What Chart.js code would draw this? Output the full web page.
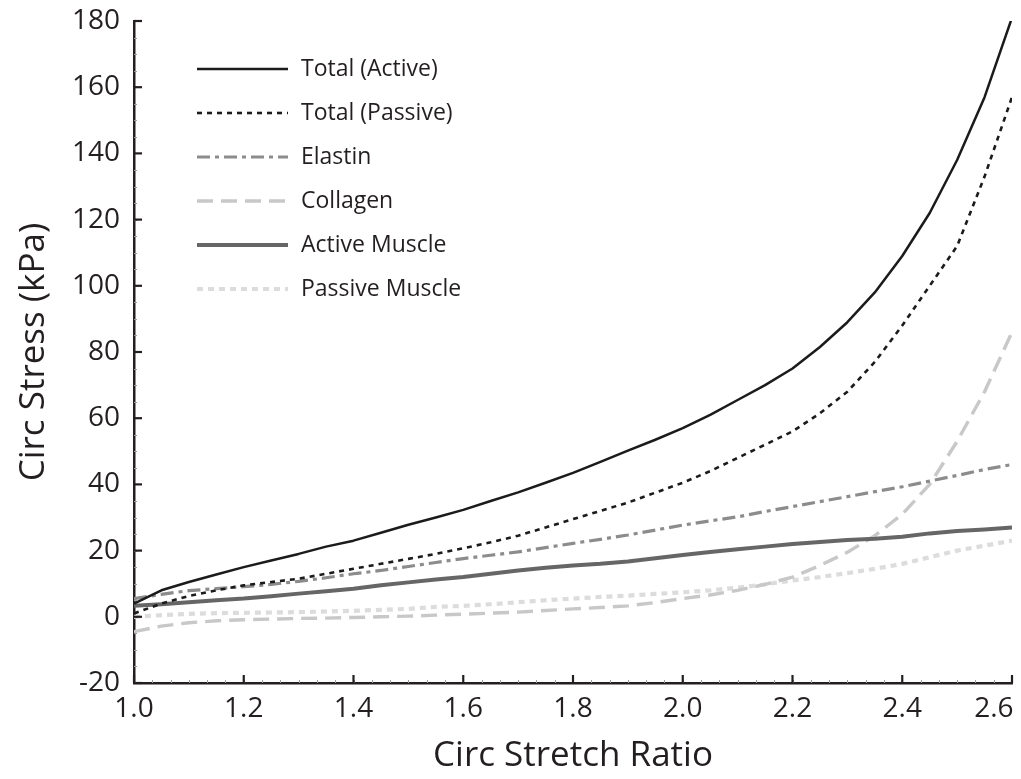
<!DOCTYPE html>
<html>
<head>
<meta charset="utf-8">
<script src="https://cdn.jsdelivr.net/npm/chart.js@4/dist/chart.umd.min.js"></script>
<style>
  html, body { margin: 0; padding: 0; background: #ffffff; }
  #wrap { width: 1021px; height: 779px; position: relative; }
</style>
</head>
<body>
<div id="wrap"><canvas id="c" width="1021" height="779"></canvas></div>
<script>
// ---- data ----
const stretch = [1.00,1.05,1.10,1.15,1.20,1.25,1.30,1.35,1.40,1.45,1.50,1.55,1.60,1.65,1.70,1.75,1.80,1.85,1.90,1.95,2.00,2.05,2.10,2.15,2.20,2.25,2.30,2.35,2.40,2.45,2.50,2.55,2.60];
const totalActive   = [4,8,10.5,12.8,15,17,19,21.2,23,25.4,27.8,30,32.3,35,37.6,40.5,43.5,46.8,50.2,53.5,57,61,65.5,70,75,81.5,89,98,109,122,138,157,181];
const totalPassive  = [1,4,6.3,8,9.5,10.5,11.5,13,14.5,16,17.5,19,20.7,22.5,24.5,27,29.5,32,34.5,37.5,40.5,44,48,52,56,61.5,68,77,88,100,112,133,157];
const elastin       = [5.5,6.8,7.9,8.5,9.1,9.8,10.7,11.8,13,14,15.2,16.4,17.6,18.6,19.6,20.9,22.2,23.4,24.7,26.2,27.7,29,30.2,31.8,33.3,34.8,36.3,37.8,39.3,41,42.7,44.5,46];
const collagen      = [-4.5,-2.8,-1.8,-1.2,-0.9,-0.7,-0.5,-0.4,-0.2,0,0.2,0.5,0.8,1.1,1.4,1.9,2.4,2.8,3.3,4.3,5.5,6.6,8,9.8,12,15.5,19.5,24.5,31,40,53,68,86];
const activeMuscle  = [3.3,3.8,4.4,5,5.5,6.2,7,7.7,8.5,9.5,10.4,11.3,12,13,14,14.8,15.5,16,16.7,17.7,18.7,19.6,20.4,21.2,22,22.6,23.2,23.6,24.2,25.2,25.9,26.4,27];
const passiveMuscle = [0,0.5,0.9,1.1,1.2,1.3,1.4,1.6,1.8,2.1,2.4,3,3.3,3.8,4.4,5,5.5,6,6.4,6.9,7.4,8,8.8,9.8,11,12,13.2,14.5,16,18,20,21.5,23];
const seriesNames = ['Total (Active)','Total (Passive)','Elastin','Collagen','Active Muscle','Passive Muscle'];
const xTickStep = 0.2;
const yTickStep = 20;
const xTitle = 'Circ Stretch Ratio';
const yTitle = 'Circ Stress (kPa)';

const INK = '#231f20';
const FONT = "'Open Sans', 'DejaVu Sans', sans-serif";

function pts(arr) { return stretch.map((x, i) => ({ x: x, y: arr[i] })); }

const styles = [
  { borderColor: '#1c1a1a', borderWidth: 2.5, borderDash: [] },
  { borderColor: '#1c1a1a', borderWidth: 2.6, borderDash: [5, 5] },
  { borderColor: '#8c8c8c', borderWidth: 3.2, borderDash: [13, 5, 4, 5] },
  { borderColor: '#c8c8c8', borderWidth: 3.4, borderDash: [16, 8] },
  { borderColor: '#666666', borderWidth: 4, borderDash: [] },
  { borderColor: '#dcdcdc', borderWidth: 4.2, borderDash: [6, 5] }
];
const seriesData = [totalActive, totalPassive, elastin, collagen, activeMuscle, passiveMuscle];

// draw order: lightest first so darker curves sit on top
const drawOrder = [5, 3, 2, 4, 1, 0];

const datasets = seriesNames.map((name, i) => ({
  label: name,
  data: pts(seriesData[i]),
  borderColor: styles[i].borderColor,
  borderWidth: styles[i].borderWidth,
  borderDash: styles[i].borderDash,
  borderCapStyle: 'butt',
  borderJoinStyle: 'round',
  pointRadius: 0,
  tension: 0,
  fill: false,
  order: 10 - drawOrder.indexOf(i)
}));

// inward major/minor tick marks
const innerTicks = {
  id: 'innerTicks',
  afterDraw(chart) {
    const ctx = chart.ctx;
    const xs = chart.scales.x, ys = chart.scales.y;
    const ca = chart.chartArea;
    ctx.save();
    ctx.lineWidth = 1;
    ctx.strokeStyle = '#9a9a9a';
    for (let k = 0; k <= 48; k++) {
      const v = xs.min + k * (xs.max - xs.min) / 48;
      const px = Math.round(xs.getPixelForValue(v)) + 0.5;
      ctx.beginPath(); ctx.moveTo(px, ca.bottom); ctx.lineTo(px, ca.bottom - 3); ctx.stroke();
    }
    for (let v = ys.min; v <= ys.max + 1e-9; v += 5) {
      const py = Math.round(ys.getPixelForValue(v)) + 0.5;
      ctx.beginPath(); ctx.moveTo(ca.left, py); ctx.lineTo(ca.left + 3, py); ctx.stroke();
    }
    ctx.strokeStyle = INK;
    ctx.lineWidth = 2.2;
    xs.ticks.forEach(t => {
      const px = xs.getPixelForValue(t.value);
      ctx.beginPath(); ctx.moveTo(px, ca.bottom); ctx.lineTo(px, ca.bottom - 8); ctx.stroke();
    });
    ys.ticks.forEach(t => {
      const py = ys.getPixelForValue(t.value);
      ctx.beginPath(); ctx.moveTo(ca.left, py); ctx.lineTo(ca.left + 8, py); ctx.stroke();
    });
    ctx.restore();
  }
};

// legend drawn inside the plot area
const innerLegend = {
  id: 'innerLegend',
  afterDraw(chart) {
    const ctx = chart.ctx;
    const x0 = 197, x1 = 288, tx = 301, y0 = 69, dy = 44;
    ctx.save();
    chart.data.datasets.forEach((ds, i) => {
      const y = y0 + i * dy;
      ctx.strokeStyle = ds.borderColor;
      ctx.lineWidth = ds.borderWidth;
      ctx.setLineDash(ds.borderDash || []);
      ctx.lineCap = 'butt';
      ctx.beginPath(); ctx.moveTo(x0, y); ctx.lineTo(x1, y); ctx.stroke();
      ctx.setLineDash([]);
      ctx.fillStyle = INK;
      ctx.font = "23px " + FONT;
      ctx.textBaseline = 'middle';
      ctx.textAlign = 'left';
      ctx.fillText(ds.label, tx, y);
    });
    ctx.restore();
  }
};

new Chart(document.getElementById('c'), {
  type: 'line',
  data: { datasets: datasets },
  options: {
    responsive: false,
    animation: false,
    devicePixelRatio: 1,
    layout: { padding: { top: 21, right: 9, left: 0, bottom: 0 } },
    plugins: { legend: { display: false }, tooltip: { enabled: false } },
    scales: {
      x: {
        type: 'linear',
        min: 1.0, max: 2.6,
        afterFit(s) { s.height = 96; s.paddingLeft = 0; s.paddingRight = 0; },
        grid: { display: false, drawTicks: false },
        border: { display: true, color: INK, width: 2.5 },
        ticks: {
          stepSize: xTickStep,
          padding: 9,
          color: INK,
          font: { family: FONT, size: 28 },
          callback: (v, i, arr) => Number(v).toFixed(1) + (i === arr.length - 1 ? '     ' : ''),
          maxRotation: 0
        },
        title: {
          display: true, text: xTitle, color: INK,
          font: { family: FONT, size: 35 },
          padding: { top: 0, bottom: 2 }
        }
      },
      y: {
        type: 'linear',
        min: -20, max: 180,
        afterFit(s) { s.width = 134; s.paddingTop = 0; s.paddingBottom = 0; },
        grid: { display: false, drawTicks: false },
        border: { display: true, color: INK, width: 2.5 },
        ticks: {
          stepSize: yTickStep,
          padding: 14,
          color: INK,
          font: { family: FONT, size: 28 }
        },
        title: {
          display: true, text: yTitle, color: INK,
          font: { family: FONT, size: 35 },
          padding: { top: 13, bottom: 0 }
        }
      }
    }
  },
  plugins: [innerTicks, innerLegend]
});
</script>
</body>
</html>
